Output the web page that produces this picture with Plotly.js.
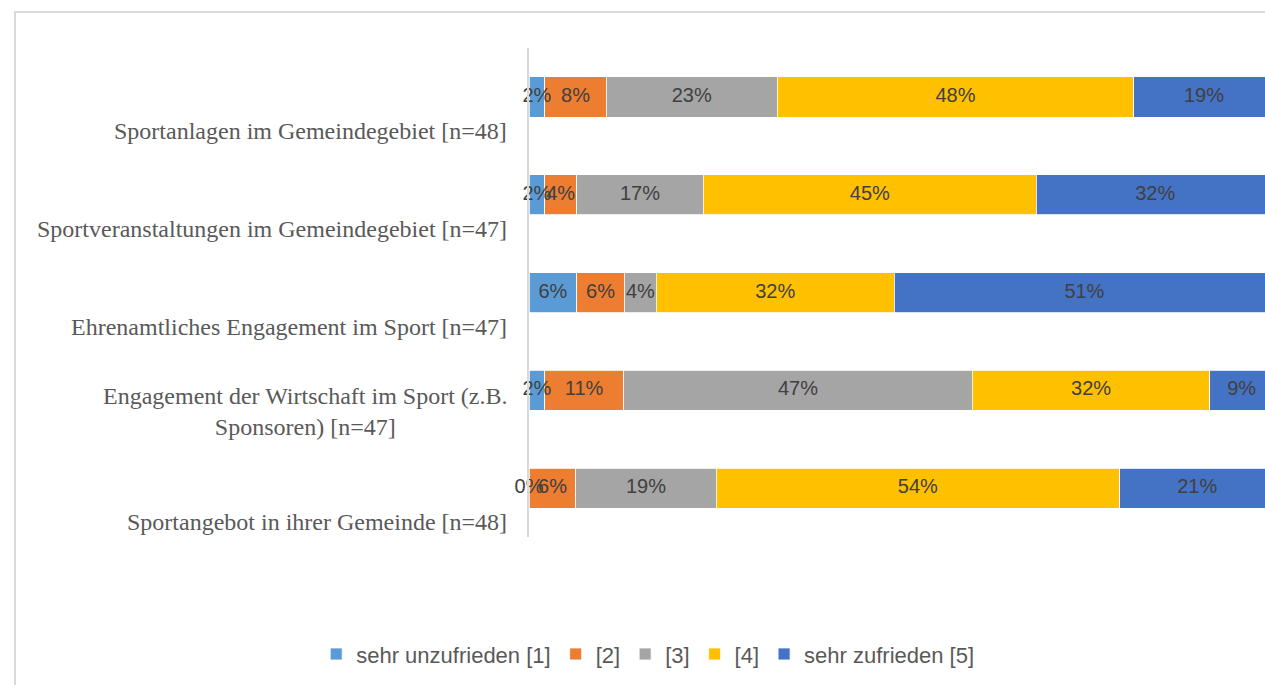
<!DOCTYPE html>
<html>
<head>
<meta charset="utf-8">
<script src="https://cdn.plot.ly/plotly-3.0.1.min.js"></script>
<style>
  html, body { margin: 0; padding: 0; overflow: hidden; background: #fff; }
  #plot { position: absolute; left: 0; top: 0; width: 1275px; height: 685px; }
  #frame { position: absolute; left: 14px; top: 11px; width: 1400px; height: 800px;
           border: 2px solid #d9d9d9; pointer-events: none; }
</style>
</head>
<body>
<div id="plot"></div>
<div id="frame"></div>
<script>
// categories, top to bottom
const categories = [
    'Sportanlagen im Gemeindegebiet [n=48]',
    'Sportveranstaltungen im Gemeindegebiet [n=47]',
    'Ehrenamtliches Engagement im Sport [n=47]',
    'Engagement der Wirtschaft im Sport (z.B.<br>Sponsoren) [n=47]',
    'Sportangebot in ihrer Gemeinde [n=48]'
];
const seriesNames = ['sehr unzufrieden [1]', '[2]', '[3]', '[4]', 'sehr zufrieden [5]'];
const seriesColors = ['#5b9bd5', '#ed7d31', '#a5a5a5', '#ffc000', '#4472c4'];

// shares in percent, one array per answer level (same order as categories)
const level1 = [2.1, 2.1, 6.4, 2.1, 0.0];
const level2 = [8.3, 4.3, 6.4, 10.6, 6.3];
const level3 = [22.9, 17.0, 4.3, 46.8, 18.8];
const level4 = [47.9, 44.7, 31.9, 31.9, 54.2];
const level5 = [18.8, 31.9, 51.1, 8.51, 20.8];
const levels = [level1, level2, level3, level4, level5];

const labelFont = { family: 'Liberation Sans, Arial, sans-serif', size: 20, color: '#404040' };

const traces = levels.map((vals, k) => ({
    type: 'bar',
    orientation: 'h',
    name: seriesNames[k],
    y: categories,
    x: vals,
    marker: { color: seriesColors[k], line: { color: '#ffffff', width: 0.8 } },
    hoverinfo: 'skip'
}));

// data labels on top of all bars, centred on each segment
const lx = [], ly = [], lt = [];
categories.forEach((c, i) => {
    let start = 0;
    levels.forEach(vals => {
        lx.push(start + vals[i] / 2);
        ly.push(c);
        lt.push(Math.round(vals[i]) + '%');
        start += vals[i];
    });
});
traces.push({
    type: 'scatter', mode: 'text', x: lx, y: ly, text: lt,
    textposition: 'middle center', textfont: labelFont,
    showlegend: false, hoverinfo: 'skip', cliponaxis: false
});

// category labels sit below the bar, as in the original
const annotations = categories.map(c => {
    const lines = c.split('<br>').length;
    return {
        xref: 'paper', yref: 'y', x: 0, y: c,
        xanchor: 'right', yanchor: 'middle', xshift: -20,
        yshift: -47 + 13 * lines,
        align: 'center', showarrow: false, text: c,
        font: { family: 'Liberation Serif, Times New Roman, serif', size: 24, color: '#595959' }
    };
});

const layout = {
    width: 1275,
    height: 685,
    margin: { l: 529, r: 1, t: 48, b: 148 },
    barmode: 'stack',
    bargap: 0.59,
    paper_bgcolor: '#ffffff',
    plot_bgcolor: '#ffffff',
    showlegend: true,
    xaxis: { range: [0, 100], visible: false, fixedrange: true },
    yaxis: {
        autorange: 'reversed', showticklabels: false, ticks: '',
        showline: true, linecolor: '#d9d9d9', linewidth: 2,
        showgrid: false, zeroline: false, fixedrange: true
    },
    legend: {
        orientation: 'h', traceorder: 'normal',
        xref: 'container', yref: 'container',
        x: 0.508, xanchor: 'center', y: 0.045, yanchor: 'middle',
        itemwidth: 30,
        font: { family: 'Liberation Sans, Arial, sans-serif', size: 22, color: '#595959' }
    },
    annotations: annotations
};

Plotly.newPlot('plot', traces, layout, { displayModeBar: false, staticPlot: true });
</script>
</body>
</html>
